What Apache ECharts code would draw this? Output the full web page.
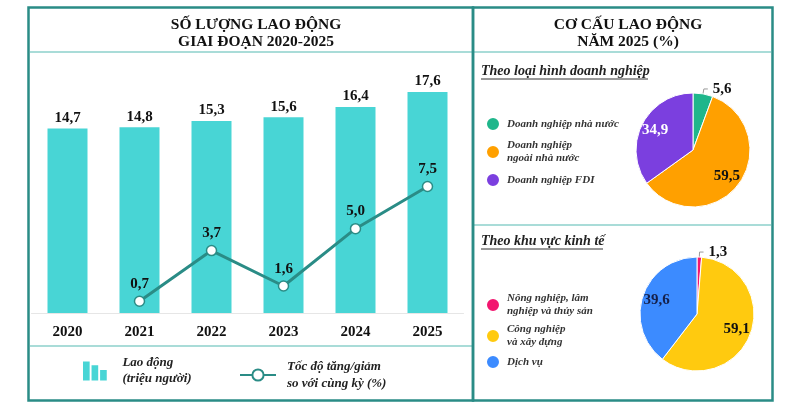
<!DOCTYPE html>
<html>

<head>
    <meta charset="utf-8">
    <title>Lao động 2020-2025</title>
    <script src="https://cdn.jsdelivr.net/npm/echarts@6/dist/echarts.min.js"></script>
    <style>
        body { margin: 0; background: #fff; }
    </style>
</head>

<body>
    <div id="chart" style="width: 804px; height: 420px;"></div>

    <script>
        // du lieu
        var years = ['2020', '2021', '2022', '2023', '2024', '2025'];
        var laborValues = [14.7, 14.8, 15.3, 15.6, 16.4, 17.6];
        var growthValues = [null, 0.7, 3.7, 1.6, 5.0, 7.5];

        var enterpriseTypes = ['Doanh nghiệp nhà nước', 'Doanh nghiệp\nngoài nhà nước', 'Doanh nghiệp FDI'];
        var enterpriseShares = [5.6, 59.5, 34.9];

        var sectors = ['Nông nghiệp, lâm\nnghiệp và thủy sản', 'Công nghiệp\nvà xây dựng', 'Dịch vụ'];
        var sectorShares = [1.3, 59.1, 39.6];

        var FONT = '"Liberation Serif", "DejaVu Serif", serif';
        var TEAL = '#2a8c86';
        var LIGHT = '#a9dcd8';

        function vn(v) {
            return v == null ? '' : Number(v).toFixed(1).replace('.', ',');
        }

        // day nhan ben trong ra xa tam mot chut
        function pushOut(cx, cy, k, insideIdx) {
            return function (params) {
                if (insideIdx.indexOf(params.dataIndex) < 0) return {};
                var r = params.labelRect;
                var mx = r.x + r.width / 2 - cx;
                var my = r.y + r.height / 2 - cy;
                return { dx: mx * (k - 1), dy: my * (k - 1) };
            };
        }

        var chart = echarts.init(document.getElementById('chart'));

        var pie1Colors = ['#1fb68b', '#ffa000', '#7b3fdf'];
        var pie2Colors = ['#f2166f', '#ffca0f', '#3c8bff'];
        var pie1Label = ['#111', '#111', '#fff'];
        var pie2Label = ['#111', '#111', '#15204a'];

        var legendText = { fontFamily: FONT, fontSize: 13, fontStyle: 'italic', fontWeight: 'bold', color: '#222' };
        var pieLegendText = { fontFamily: FONT, fontSize: 11, fontStyle: 'italic', fontWeight: 'bold', color: '#333', lineHeight: 13, padding: [0, 0, 0, 2] };

        var option = {
            animation: false,
            textStyle: { fontFamily: FONT },
            title: [
                {
                    text: 'SỐ LƯỢNG LAO ĐỘNG\nGIAI ĐOẠN 2020-2025',
                    left: 251, top: 11, textAlign: 'center',
                    textStyle: { fontFamily: FONT, fontSize: 15.5, fontWeight: 'bold', color: '#111', lineHeight: 17 }
                },
                {
                    text: 'CƠ CẤU LAO ĐỘNG\nNĂM 2025 (%)',
                    left: 623, top: 11, textAlign: 'center',
                    textStyle: { fontFamily: FONT, fontSize: 15.5, fontWeight: 'bold', color: '#111', lineHeight: 17 }
                }
            ],
            legend: [
                {
                    data: ['Lao động'],
                    left: 83, top: 355, padding: 0,
                    selectedMode: false,
                    icon: 'path://M0,0h7v20h-7z M9,4h7v16h-7z M18,9h7v11h-7z',
                    itemWidth: 25, itemHeight: 19, itemGap: 0,
                    formatter: function () { return 'Lao động\n(triệu người)'; },
                    textStyle: Object.assign({ lineHeight: 16, padding: [0, 0, 0, 10] }, legendText)
                },
                {
                    data: ['Tốc độ'],
                    left: 239, top: 358, padding: 0,
                    selectedMode: false,
                    itemWidth: 36, itemHeight: 14,
                    formatter: function () { return 'Tốc độ tăng/giảm\nso với cùng kỳ (%)'; },
                    textStyle: Object.assign({ lineHeight: 17, padding: [0, 0, 0, 6] }, legendText)
                },
                {
                    data: enterpriseTypes,
                    orient: 'vertical',
                    left: 485, top: 116, padding: 0,
                    selectedMode: false,
                    icon: 'circle', itemWidth: 14, itemHeight: 14, itemGap: 7,
                    textStyle: pieLegendText
                },
                {
                    data: sectors,
                    orient: 'vertical',
                    left: 485, top: 292, padding: 0,
                    selectedMode: false,
                    icon: 'circle', itemWidth: 14, itemHeight: 14, itemGap: 5,
                    textStyle: pieLegendText
                }
            ],
            grid: { left: 31.5, top: 87, width: 432, height: 226, containLabel: false },
            xAxis: {
                type: 'category',
                data: years,
                axisTick: { show: false },
                axisLine: { lineStyle: { color: '#e6e6e6', width: 1 } },
                axisLabel: { margin: 12, fontFamily: FONT, fontSize: 15, fontWeight: 'bold', color: '#111' }
            },
            yAxis: [
                { type: 'value', min: 0, max: 18, show: false, splitLine: { show: false } },
                { type: 'value', min: 0, max: 13.4, show: false, splitLine: { show: false } }
            ],
            series: [
                {
                    name: 'Lao động',
                    type: 'bar',
                    data: laborValues,
                    barWidth: 40,
                    itemStyle: { color: '#48d5d5' },
                    label: {
                        show: true, position: 'top', distance: 3,
                        formatter: function (p) { return vn(p.value); },
                        fontFamily: FONT, fontSize: 15, fontWeight: 'bold', color: '#111'
                    }
                },
                {
                    name: 'Tốc độ',
                    type: 'line',
                    yAxisIndex: 1,
                    data: growthValues,
                    symbol: 'circle',
                    symbolSize: 10,
                    showSymbol: true,
                    lineStyle: { color: TEAL, width: 3 },
                    itemStyle: { color: '#fff', borderColor: TEAL, borderWidth: 1.5 },
                    label: {
                        show: true, position: 'top', distance: 4,
                        formatter: function (p) { return vn(p.value); },
                        fontFamily: FONT, fontSize: 15, fontWeight: 'bold', color: '#111'
                    },
                    z: 5
                },
                {
                    type: 'pie',
                    center: [693, 150],
                    radius: 57,
                    startAngle: 90,
                    itemStyle: { borderColor: '#fff', borderWidth: 1 },
                    labelLine: { length: 5, length2: 4, lineStyle: { color: '#999', width: 1 } },
                    labelLayout: pushOut(693, 150, 1.35, [1, 2]),
                    data: enterpriseTypes.map(function (n, i) {
                        return {
                            name: n, value: enterpriseShares[i],
                            itemStyle: { color: pie1Colors[i] },
                            label: {
                                position: i === 0 ? 'outside' : 'inside',
                                color: pie1Label[i]
                            },
                            labelLine: { show: i === 0 }
                        };
                    }),
                    label: {
                        show: true,
                        formatter: function (p) { return vn(p.value); },
                        fontFamily: FONT, fontSize: 15, fontWeight: 'bold'
                    }
                },
                {
                    type: 'pie',
                    center: [697, 314],
                    radius: 57,
                    startAngle: 90,
                    itemStyle: { borderColor: '#fff', borderWidth: 1 },
                    labelLine: { length: 5, length2: 4, lineStyle: { color: '#999', width: 1 } },
                    labelLayout: pushOut(697, 314, 1.35, [1, 2]),
                    data: sectors.map(function (n, i) {
                        return {
                            name: n, value: sectorShares[i],
                            itemStyle: { color: pie2Colors[i] },
                            label: {
                                position: i === 0 ? 'outside' : 'inside',
                                color: pie2Label[i]
                            },
                            labelLine: { show: i === 0 }
                        };
                    }),
                    label: {
                        show: true,
                        formatter: function (p) { return vn(p.value); },
                        fontFamily: FONT, fontSize: 15, fontWeight: 'bold'
                    }
                }
            ],
            graphic: [
                // khung
                { type: 'rect', shape: { x: 28.5, y: 7.5, width: 444.5, height: 393 }, style: { fill: null, stroke: TEAL, lineWidth: 2.5 }, z: 10 },
                { type: 'rect', shape: { x: 473, y: 7.5, width: 299.5, height: 393 }, style: { fill: null, stroke: TEAL, lineWidth: 2.5 }, z: 10 },
                { type: 'line', shape: { x1: 30, y1: 52, x2: 771, y2: 52 }, style: { stroke: LIGHT, lineWidth: 2 }, z: 9 },
                { type: 'line', shape: { x1: 30, y1: 346, x2: 472, y2: 346 }, style: { stroke: LIGHT, lineWidth: 2 }, z: 9 },
                { type: 'line', shape: { x1: 474, y1: 225, x2: 771, y2: 225 }, style: { stroke: LIGHT, lineWidth: 2 }, z: 9 },
                // tieu de phu
                {
                    type: 'text', left: 481, top: 64,
                    style: { text: 'Theo loại hình doanh nghiệp', font: 'italic bold 14px ' + FONT, fill: '#222' }
                },
                { type: 'line', shape: { x1: 481, y1: 79, x2: 648, y2: 79 }, style: { stroke: '#333', lineWidth: 1 } },
                {
                    type: 'text', left: 481, top: 234,
                    style: { text: 'Theo khu vực kinh tế', font: 'italic bold 14px ' + FONT, fill: '#222' }
                },
                { type: 'line', shape: { x1: 481, y1: 249, x2: 603, y2: 249 }, style: { stroke: '#333', lineWidth: 1 } }
            ]
        };

        chart.setOption(option);
    </script>
</body>

</html>
